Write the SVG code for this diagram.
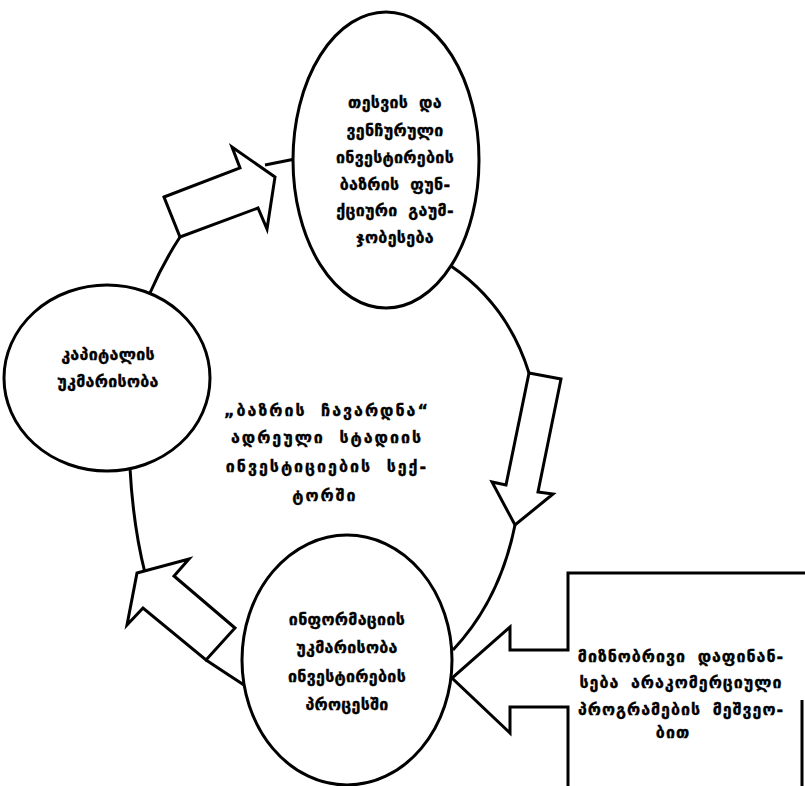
<svg xmlns="http://www.w3.org/2000/svg" width="805" height="786" viewBox="0 0 805 786">
<style>
.sh{fill:#fff;stroke:#000;stroke-width:3;stroke-linejoin:miter}
.ln{fill:none;stroke:#000;stroke-width:3}
.t{font-family:"DejaVu Sans","Noto Sans",sans-serif;font-weight:bold;font-size:16px;fill:#000;stroke:#000;stroke-width:0.35;text-anchor:middle;word-spacing:5px;letter-spacing:0.3px}
.c{letter-spacing:2px;word-spacing:7px}
.r{letter-spacing:1px;word-spacing:5px}
</style>
<rect width="805" height="786" fill="#fff"/>
<g id="connectors">
<path class="ln" d="M150,293 Q163,263 180,237"/>
<path class="ln" d="M265,165 L295,159"/>
<path class="ln" d="M451,266 Q508,305 529,373"/>
<path class="ln" d="M515,525 Q500,600 453,650"/>
<path class="ln" d="M244,685 Q224,672 206,660"/>
<path class="ln" d="M130,468 Q133,525 145,573"/>
<polygon class="sh" points="164,197 240,168 232,147 275,177 267,229 258,208 180,237"/>
<polygon class="sh" points="529,373 561,379 538,492 553,494 515,525 492,482 506,485"/>
<polygon class="sh" points="235,628 174,576 189,559 137,573 127,625 143,608 206,660"/>
</g>
<g id="node-top">
<ellipse class="sh" cx="386" cy="160" rx="93" ry="148"/>
<text class="t" x="395" y="108">თესვის  და</text>
<text class="t" x="395" y="136">ვენჩურული</text>
<text class="t" x="395" y="163">ინვესტირების</text>
<text class="t" x="395" y="190">ბაზრის  ფუნ-</text>
<text class="t" x="395" y="216">ქციური  გაუმ-</text>
<text class="t" x="395" y="243">ჯობესება</text>
</g>
<g id="node-left">
<ellipse class="sh" cx="107" cy="378" rx="103" ry="93"/>
<text class="t" x="108" y="360">კაპიტალის</text>
<text class="t" x="108" y="387">უკმარისობა</text>
</g>
<g id="node-center">
<text class="t c" x="327" y="416">„ბაზრის  ჩავარდნა“</text>
<text class="t c" x="327" y="443">ადრეული  სტადიის</text>
<text class="t c" x="327" y="472">ინვესტიციების  სექ-</text>
<text class="t c" x="325" y="501">ტორში</text>
</g>
<g id="node-bottom">
<ellipse class="sh" cx="347" cy="660" rx="105" ry="125"/>
<text class="t" x="347" y="625">ინფორმაციის</text>
<text class="t" x="347" y="653">უკმარისობა</text>
<text class="t" x="347" y="682">ინვესტირების</text>
<text class="t" x="347" y="710">პროცესში</text>
</g>
<g id="node-right">
<path class="sh" d="M805,573 L568,573 L568,650 L510,650 L510,627 L452,678 L510,733 L510,707 L568,707 L568,790 L805,790"/>
<line class="ln" x1="802" y1="700" x2="802" y2="786"/>
<text class="t r" x="681" y="662">მიზნობრივი  დაფინან-</text>
<text class="t r" x="681" y="688">სება  არაკომერციული</text>
<text class="t r" x="681" y="715">პროგრამების  მეშვეო-</text>
<text class="t r" x="673" y="738">ბით</text>
</g>
</svg>
